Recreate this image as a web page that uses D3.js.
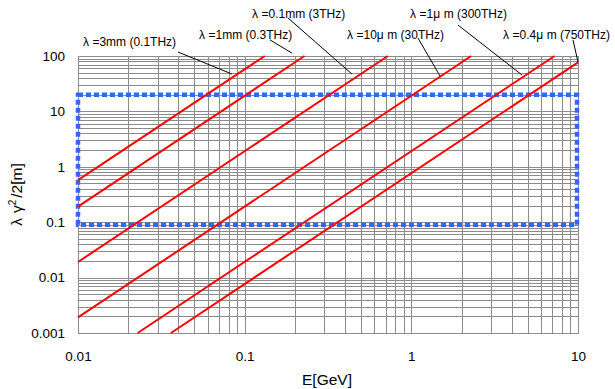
<!DOCTYPE html>
<html><head><meta charset="utf-8">
<script src="https://cdn.jsdelivr.net/npm/d3@7"></script>
<style>body{margin:0;background:#fff}svg{display:block}text{font-family:"Liberation Sans",Arial,sans-serif;fill:#000}</style>
</head><body>
<svg id="c" width="615" height="389"></svg>
<script>
// ---- data ----
const xTickValues = [0.01, 0.1, 1, 10];
const xTickLabels = ["0.01", "0.1", "1", "10"];
const yTickValues = [0.001, 0.01, 0.1, 1, 10, 100];
const yTickLabels = ["0.001", "0.01", "0.1", "1", "10", "100"];
// each label split into pieces; a gap follows every Greek glyph
const lineLabelParts = [
  ["λ", "=3mm (0.1THz)"],
  ["λ", "=1mm (0.3THz)"],
  ["λ", "=0.1mm (3THz)"],
  ["λ", "=10", "μ", "m (30THz)"],
  ["λ", "=1", "μ", "m (300THz)"],
  ["λ", "=0.4", "μ", "m (750THz)"]
];
const lineStartE = [0.01, 0.01, 0.01, 0.01, 0.0228, 0.0361];
const lineStartV = [0.574, 0.1915, 0.01915, 0.001915, 0.001, 0.001];
const lineEndE = [0.132, 0.2285, 0.723, 2.285, 7.23, 10];
const lineEndV = [100, 100, 100, 100, 100, 76.6];
// label anchors and leader lines (data coordinates)
const labelE = [0.0107, 0.0532, 0.1107, 0.411, 0.982, 3.55];
const labelV = [151, 203, 485, 203, 485, 203];
const leaderStartE = [0.0398, 0.142, 0.182, 1.096, 1.905, 9.33];
const leaderStartV = [118, 195, 485, 211, 362, 195];
const leaderEndE = [0.0839, 0.192, 0.44, 1.486, 4.61, 10];
const leaderEndV = [47.3, 113, 47.3, 43.6, 45.4, 77.9];
const boxE = [0.01, 10];
const boxV = [0.09, 20];
const xTitle = "E[GeV]";

// ---- chart ----
const svg = d3.select("#c");
const m = {l: 78, r: 37, t: 56, b: 56};
const W = 615, H = 389;
const x = d3.scaleLog().domain([0.01, 10]).range([m.l, W - m.r]);
const y = d3.scaleLog().domain([0.001, 100]).range([H - m.b, m.t]);

const grid = svg.append("g").attr("stroke", "#8c8c8c").attr("stroke-width", 1).attr("shape-rendering", "crispEdges");
grid.selectAll("line.v").data(x.ticks()).join("line").attr("class", "v")
  .attr("x1", d => Math.round(x(d)) + 0.5).attr("x2", d => Math.round(x(d)) + 0.5)
  .attr("y1", m.t).attr("y2", H - m.b);
grid.selectAll("line.h").data(y.ticks()).join("line").attr("class", "h")
  .attr("y1", d => Math.round(y(d)) + 0.5).attr("y2", d => Math.round(y(d)) + 0.5)
  .attr("x1", m.l).attr("x2", W - m.r);
svg.append("rect").attr("x", m.l + 0.5).attr("y", m.t + 0.5)
  .attr("width", W - m.r - m.l).attr("height", H - m.b - m.t)
  .attr("fill", "none").attr("stroke", "#8c8c8c");

// blue box
svg.append("rect")
  .attr("x", x(boxE[0])).attr("y", y(boxV[1]))
  .attr("width", x(boxE[1]) - x(boxE[0]) - 1).attr("height", y(boxV[0]) - y(boxV[1]))
  .attr("fill", "none").attr("stroke", "#3366ff").attr("stroke-width", 4.5)
  .attr("stroke-dasharray", "5,3");

// red lines
svg.append("g").selectAll("line").data(lineLabelParts).join("line")
  .attr("x1", (d, i) => x(lineStartE[i])).attr("y1", (d, i) => y(lineStartV[i]))
  .attr("x2", (d, i) => x(lineEndE[i])).attr("y2", (d, i) => y(lineEndV[i]))
  .attr("stroke", "#ff0000").attr("stroke-width", 2);

// leaders
svg.append("g").selectAll("line").data(lineLabelParts).join("line")
  .attr("x1", (d, i) => x(leaderStartE[i])).attr("y1", (d, i) => y(leaderStartV[i]))
  .attr("x2", (d, i) => x(leaderEndE[i])).attr("y2", (d, i) => y(leaderEndV[i]))
  .attr("stroke", "#000").attr("stroke-width", 1);

svg.append("g").selectAll("text").data(lineLabelParts).join("text")
  .attr("x", (d, i) => x(labelE[i])).attr("y", (d, i) => y(labelV[i]))
  .attr("font-size", 12)
  .each(function(parts) {
    const t = d3.select(this);
    let gap = 0;
    parts.forEach(p => {
      t.append("tspan").attr("dx", gap).text(p);
      gap = (p === "λ" || p === "μ") ? 3.5 : 0;
    });
  });

// axes
const xa = svg.append("g").attr("transform", `translate(0,${H - m.b})`)
  .call(d3.axisBottom(x).tickValues(xTickValues).tickFormat((d, i) => xTickLabels[i]).tickSize(0).tickPadding(18));
const ya = svg.append("g").attr("transform", `translate(${m.l},0)`)
  .call(d3.axisLeft(y).tickValues(yTickValues).tickFormat((d, i) => yTickLabels[i]).tickSize(0).tickPadding(13));
[xa, ya].forEach(a => { a.select(".domain").remove(); a.selectAll("text").attr("font-size", 13.5).attr("font-family", '"Liberation Sans",Arial,sans-serif'); });

svg.append("text").attr("x", 327).attr("y", 385).attr("text-anchor", "middle")
  .attr("font-size", 15.5).text(xTitle);
const yt = svg.append("text").attr("transform", `translate(22,${(m.t + H - m.b) / 2}) rotate(-90)`)
  .attr("text-anchor", "middle").attr("font-size", 15.5);
yt.append("tspan").text("λ");
yt.append("tspan").attr("dx", 5).text("γ");
yt.append("tspan").attr("dy", -6).attr("font-size", 10).text("2");
yt.append("tspan").attr("dy", 6).attr("dx", 2).text("/2[m]");
</script>
</body></html>
